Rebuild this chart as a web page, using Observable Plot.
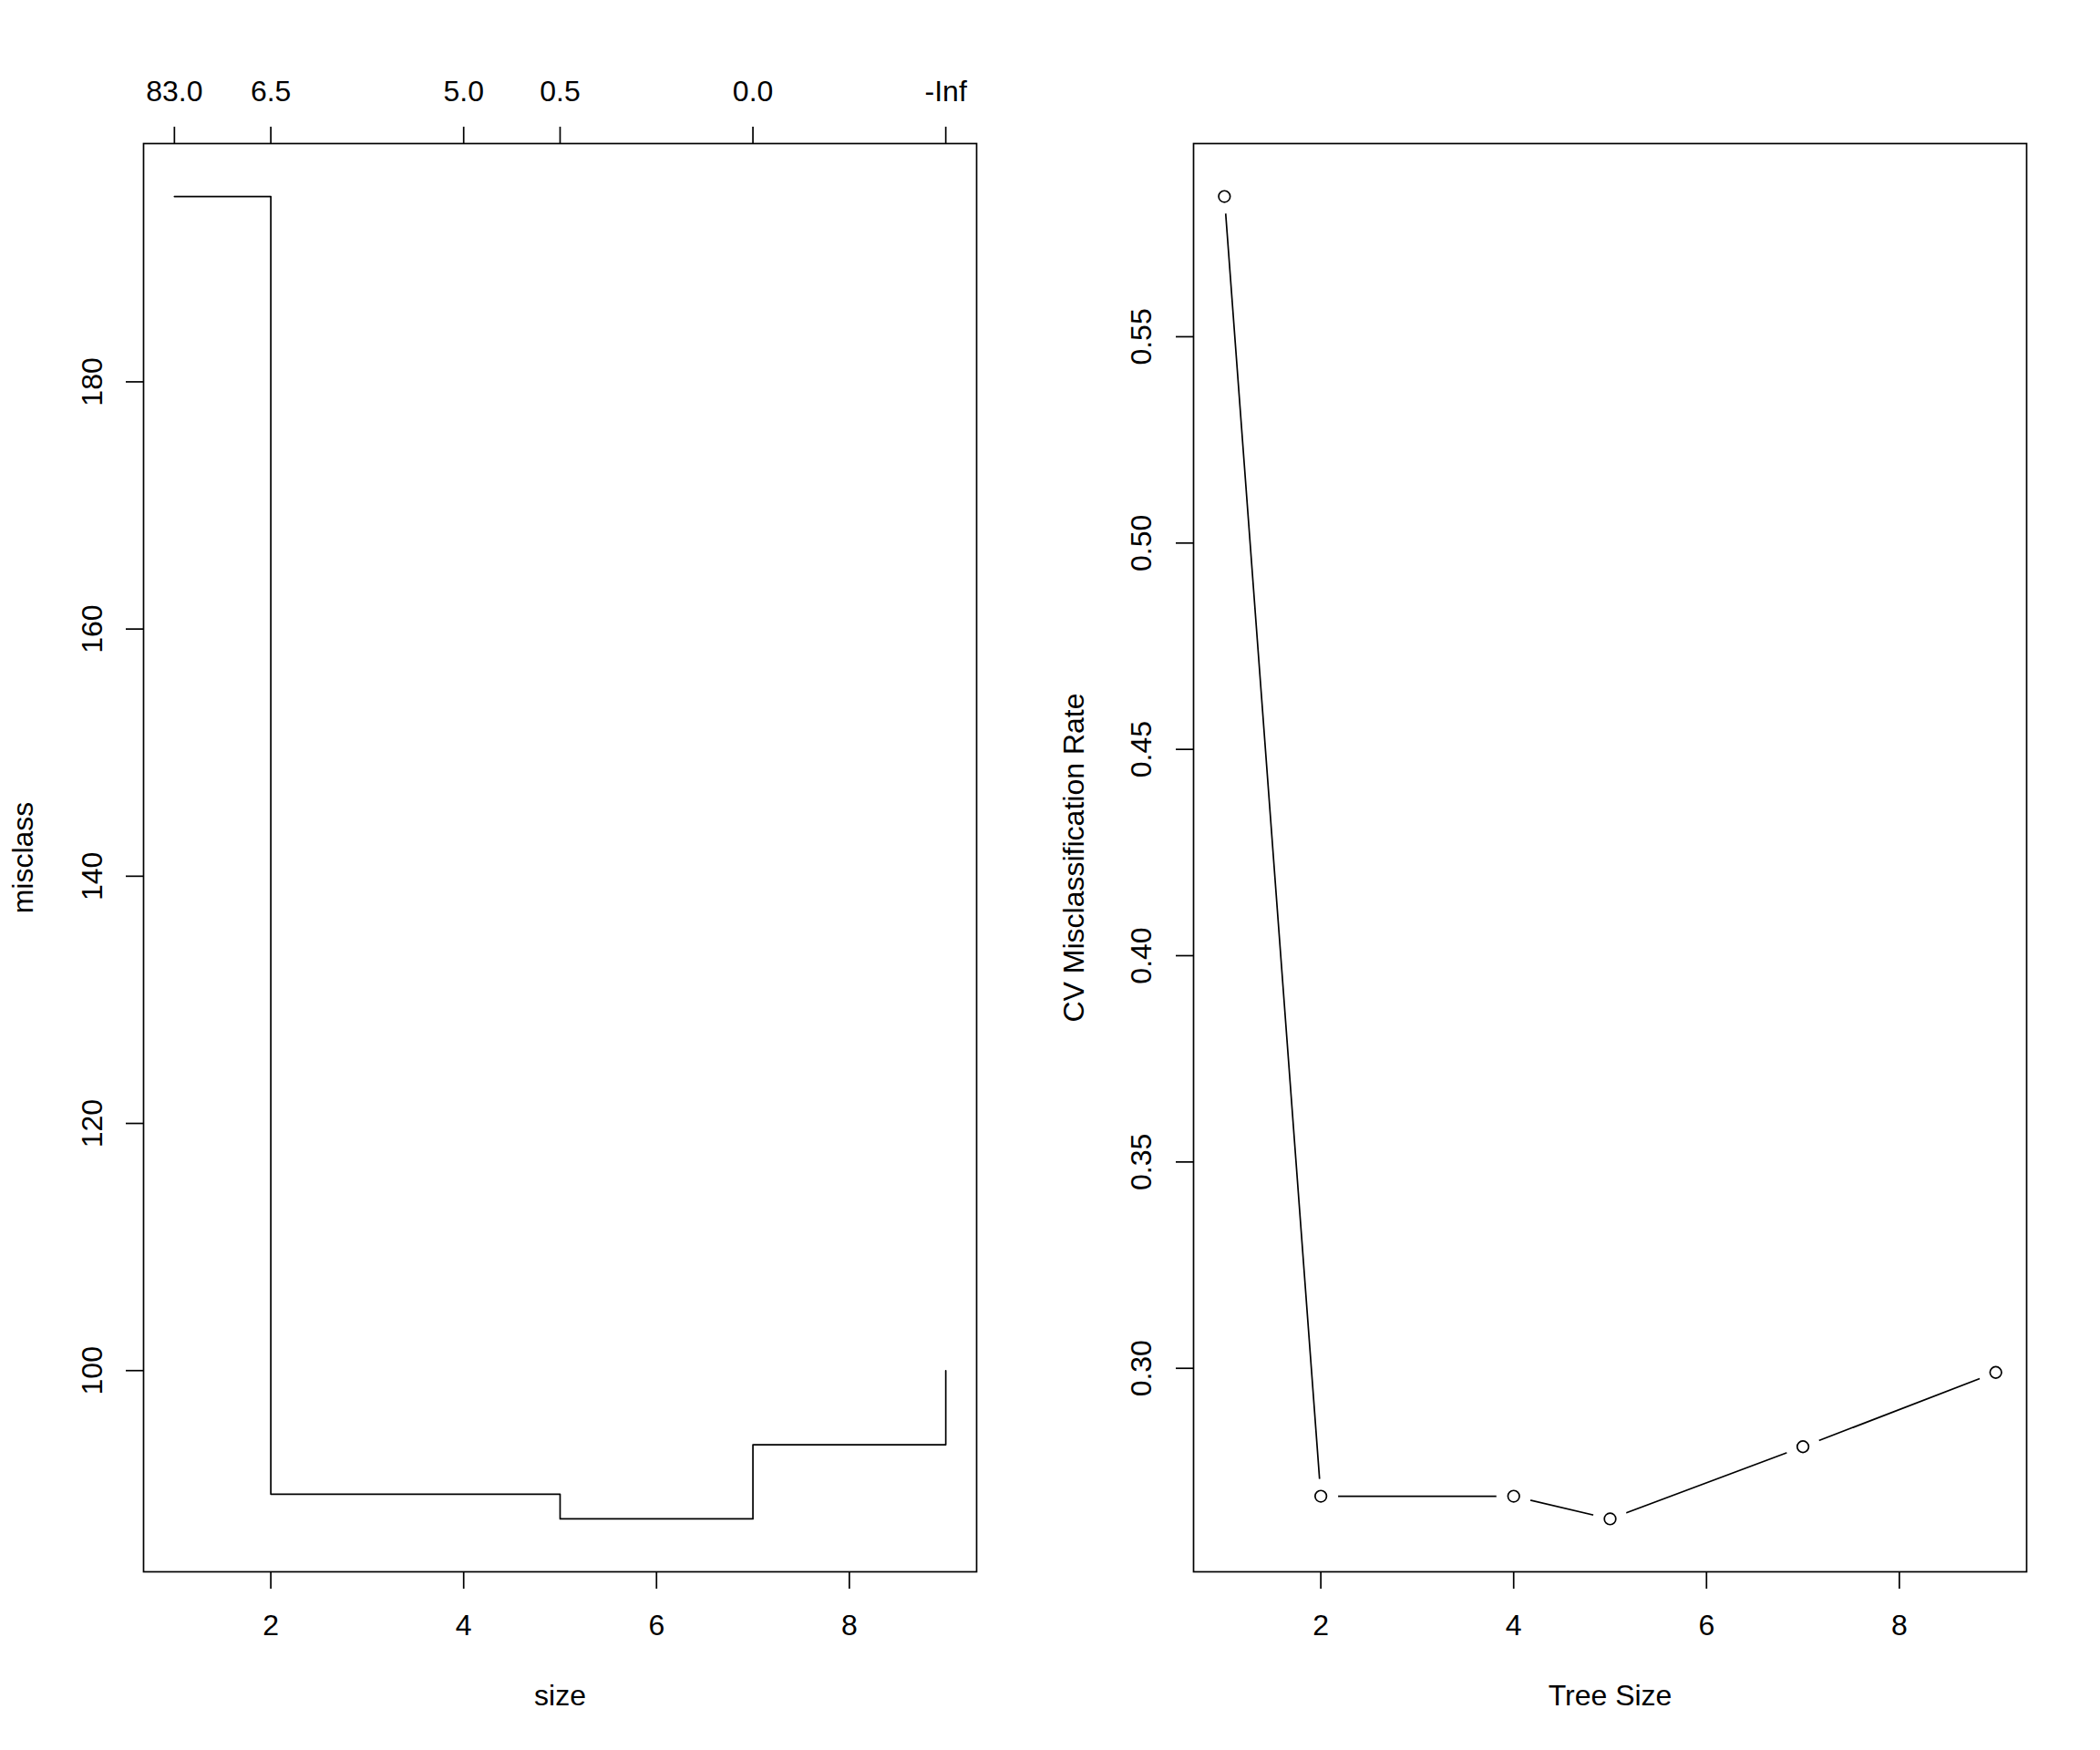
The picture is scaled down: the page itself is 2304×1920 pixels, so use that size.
<!DOCTYPE html>
<html>
<head>
<meta charset="utf-8">
<script src="https://cdn.jsdelivr.net/npm/d3@7"></script>
<script src="https://cdn.jsdelivr.net/npm/@observablehq/plot@0.6"></script>
<style>
  html, body { margin: 0; padding: 0; background: white; }
  #wrap { position: relative; width: 2304px; height: 1920px; background: white; }
  #left, #right { position: absolute; top: 0; }
  #left { left: 0; }
  #right { left: 1152px; }
</style>
</head>
<body>
<div id="wrap"><div id="left"></div><div id="right"></div></div>
<script>
// ---- data ----
const treeSizes = [1, 2, 4, 5, 7, 9];
const misclass = [195, 90, 90, 88, 94, 100];
const cvRate = [0.584, 0.269, 0.269, 0.2635, 0.281, 0.299];
const topTickSizes = [1, 2, 4, 5, 7, 9];
const topTickLabels = ["83.0", "6.5", "5.0", "0.5", "0.0", "-Inf"];
const xTicks = [2, 4, 6, 8];
const leftYTicks = [100, 120, 140, 160, 180];
const rightYTicks = [0.30, 0.35, 0.40, 0.45, 0.50, 0.55];

const leftData = treeSizes.map((s, i) => ({size: s, misclass: misclass[i]}));
const rightData = treeSizes.map((s, i) => ({size: s, rate: cvRate[i]}));

// R-style 4% range extension
const ext = (vals) => {
  const lo = d3.min(vals), hi = d3.max(vals), p = (hi - lo) * 0.04;
  return [lo - p, hi + p];
};

const FONT = "Liberation Sans, Arial, Helvetica, sans-serif";
const FS = 32;
const SW = 1.7;
const W = 1152, H = 1920;
const margins = {marginLeft: 157, marginRight: 81, marginTop: 157, marginBottom: 196};
const style = {fontFamily: FONT, fontSize: FS + "px", background: "white", color: "black", overflow: "visible"};
const T = {fontSize: FS, fill: "black", textAnchor: "middle", lineAnchor: "middle"};

// ---- left panel ----
const left = Plot.plot({
  width: W, height: H, ...margins, style,
  x: {domain: ext(treeSizes), axis: null},
  y: {domain: ext(misclass), axis: null},
  marks: [
    Plot.frame({stroke: "black", strokeWidth: SW}),
    Plot.axisX(xTicks, {anchor: "bottom", tickSize: 19, strokeWidth: SW, tickFormat: () => "", label: null}),
    Plot.axisX(topTickSizes, {anchor: "top", tickSize: 19, strokeWidth: SW, tickFormat: () => "", label: null}),
    Plot.axisY(leftYTicks, {anchor: "left", tickSize: 19, strokeWidth: SW, tickFormat: () => "", label: null}),
    Plot.text(xTicks, {x: d => d, text: d => String(d), frameAnchor: "bottom", dy: 59, ...T}),
    Plot.text(topTickSizes, {x: d => d, text: (d, i) => topTickLabels[i], frameAnchor: "top", dy: -56.5, ...T}),
    Plot.text(leftYTicks, {y: d => d, text: d => String(d), frameAnchor: "left", dx: -56, rotate: -90, ...T}),
    Plot.text(["size"], {text: d => d, frameAnchor: "bottom", dy: 136, ...T}),
    Plot.text(["misclass"], {text: d => d, frameAnchor: "left", dx: -132, rotate: -90, ...T}),
    Plot.line(leftData, {x: "size", y: "misclass", curve: "step-after", stroke: "black", strokeWidth: SW})
  ]
});
document.getElementById("left").appendChild(left);

// ---- right panel ----
const right = Plot.plot({
  width: W, height: H, ...margins, style,
  x: {domain: ext(treeSizes), axis: null},
  y: {domain: ext(cvRate), axis: null},
  marks: [
    Plot.frame({stroke: "black", strokeWidth: SW}),
    Plot.axisX(xTicks, {anchor: "bottom", tickSize: 19, strokeWidth: SW, tickFormat: () => "", label: null}),
    Plot.axisY(rightYTicks, {anchor: "left", tickSize: 19, strokeWidth: SW, tickFormat: () => "", label: null}),
    Plot.text(xTicks, {x: d => d, text: d => String(d), frameAnchor: "bottom", dy: 59, ...T}),
    Plot.text(rightYTicks, {y: d => d, text: d => d.toFixed(2), frameAnchor: "left", dx: -57, rotate: -90, ...T}),
    Plot.text(["Tree Size"], {text: d => d, frameAnchor: "bottom", dy: 136, ...T}),
    Plot.text(["CV Misclassification Rate"], {text: d => d, frameAnchor: "left", dx: -131, rotate: -90, ...T}),
    Plot.line(rightData, {x: "size", y: "rate", stroke: "black", strokeWidth: SW}),
    Plot.dot(rightData, {x: "size", y: "rate", r: 19, fill: "white", stroke: null}),
    Plot.dot(rightData, {x: "size", y: "rate", r: 6.3, fill: "white", stroke: "black", strokeWidth: SW})
  ]
});
document.getElementById("right").appendChild(right);
</script>
</body>
</html>
